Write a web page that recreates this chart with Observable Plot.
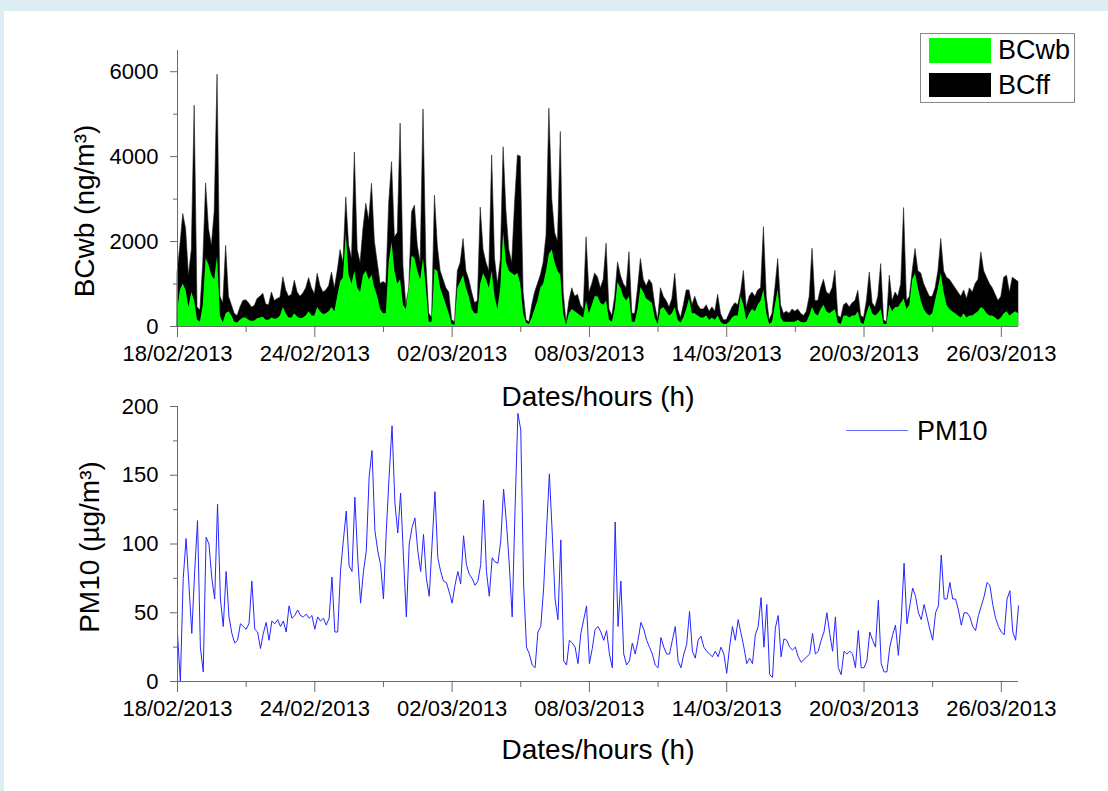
<!DOCTYPE html>
<html><head><meta charset="utf-8">
<script src="https://cdn.jsdelivr.net/npm/d3@7"></script>
<script src="https://cdn.jsdelivr.net/npm/@observablehq/plot@0.6"></script>
<style>
html,body{margin:0;padding:0;}
body{width:1108px;height:791px;background:#dcedf4;position:relative;overflow:hidden;font-family:"Liberation Sans",Arial,sans-serif;color:#000;}
#panel{position:absolute;left:4px;top:11px;width:1104px;height:780px;background:#fff;}
.abs{position:absolute;}
.ytitle{position:absolute;font-size:28px;white-space:nowrap;transform:translate(-50%,-50%) rotate(-90deg);line-height:1;}
.legtext{position:absolute;font-size:27px;line-height:27px;white-space:nowrap;}
</style></head><body>
<div id="panel"></div>
<div id="top" class="abs" style="left:0;top:0"></div>
<div id="bottom" class="abs" style="left:0;top:380px"></div>
<div class="ytitle" style="left:85px;top:211px">BCwb (ng/m³)</div>
<div class="ytitle" style="left:90px;top:547px">PM10 (µg/m³)</div>
<div class="abs" style="left:920px;top:33px;width:153px;height:68px;border:1px solid #888;background:#fff"></div>
<div class="abs" style="left:929px;top:38px;width:62px;height:25px;background:#00ff00"></div>
<div class="abs" style="left:929px;top:73px;width:62px;height:24px;background:#000"></div>
<div class="legtext" style="left:998px;top:37px">BCwb</div>
<div class="legtext" style="left:998px;top:72px">BCff</div>
<div class="abs" style="left:846px;top:430px;width:62px;height:1px;background:#6f6fff"></div>
<div class="legtext" style="left:917px;top:418px">PM10</div>
<script>
// ---- data (3-hourly, starting 18/02/2013 00:00) ----
const startDate = "18/02/2013";
const stepHours = 3;
const bcTotal = [
1250,1900,2650,2300,1200,1800,5200,450,
380,1500,3370,2300,1900,2700,5930,700,
550,1900,700,500,300,250,450,600,
620,550,450,480,650,700,770,520,
500,800,600,650,680,1160,850,700,
750,1080,800,700,780,900,1140,900,
760,1240,950,800,850,950,1270,900,
1300,1800,1500,3040,1900,1600,4100,1800,
1500,2300,2890,2500,3360,2000,1500,1000,
1050,1000,2900,3870,2100,2200,4780,1400,
500,900,2690,2850,1900,1500,5110,1500,
300,200,3080,1900,1300,1100,900,800,
150,100,1300,1500,2060,1300,1100,800,
550,600,2800,1800,1500,1300,4030,1600,
1000,1550,4220,2700,1800,1500,2900,4030,
4000,800,150,100,500,800,1000,1200,
1500,2140,5130,3000,2200,2000,4580,800,
80,600,900,700,750,500,400,2100,
800,1000,1250,1150,900,1100,1950,400,
250,700,1510,1200,1000,900,1750,300,
300,900,1590,1100,950,1100,1000,500,
150,900,700,600,450,650,1240,400,
200,500,850,850,500,700,500,400,
400,500,350,450,350,750,300,150,
150,300,450,550,500,800,1310,450,
700,800,700,850,900,2340,700,150,
300,900,1590,500,300,350,300,400,
350,400,300,250,350,700,1830,600,
600,900,1100,800,750,900,1310,250,
200,500,550,450,550,600,840,250,
200,600,1270,550,450,700,1470,150,
100,1196,600,800,700,1000,2790,600,
700,1300,1825,1300,1250,1000,850,700,
700,900,1300,2060,1300,1150,1100,1000,
900,800,700,850,650,900,800,1000,
1100,1746,1300,1150,1000,900,750,600,
700,1150,1196,800,1150,1100,1050];
const bcWb = [
350,850,1000,850,450,800,600,150,
100,500,1600,1450,1200,1100,1650,250,
80,300,350,250,100,80,150,200,
200,150,120,130,180,200,220,150,
150,200,170,180,250,450,300,200,
200,300,220,180,200,250,350,250,
250,450,350,280,300,350,450,350,
700,1050,1150,2190,1200,1000,1300,900,
800,1200,1300,1100,1200,900,700,400,
300,300,1500,1980,1300,1000,1100,500,
400,900,1660,1600,1300,1100,1600,900,
100,100,1350,1300,900,700,500,300,
50,30,900,1050,1200,900,700,400,
300,300,1000,1250,1100,900,1300,700,
400,900,2220,1500,1300,1250,1200,1250,
1000,300,80,50,200,400,600,900,
1000,1300,1700,1800,1500,1300,1200,300,
30,300,400,350,300,250,200,600,
300,500,700,700,550,500,600,150,
100,400,1040,900,700,600,700,100,
100,400,920,800,650,600,550,200,
50,400,450,350,250,300,450,150,
80,200,400,650,300,300,250,200,
200,250,150,200,150,250,100,50,
50,100,200,250,250,700,500,150,
300,400,350,500,600,860,300,50,
100,500,860,200,100,100,100,100,
100,150,100,80,100,250,450,300,
250,400,500,350,300,350,400,80,
50,250,250,200,250,250,350,80,
50,300,500,300,250,300,400,50,
50,500,350,450,450,550,650,400,
500,1100,1240,900,600,400,300,250,
300,600,900,1240,800,500,400,350,
300,250,200,300,200,250,250,300,
350,450,400,300,250,250,200,150,
200,300,350,250,300,350,300];
const pm10 = [
35,0,75,104,70,35,80,117,
25,7,105,100,75,60,129,60,
40,80,47,35,28,30,42,40,
38,42,73,38,36,24,35,43,
30,44,42,45,40,44,36,55,
46,48,52,48,47,49,46,48,
38,47,44,46,41,46,76,36,
36,81,103,124,84,80,134,90,
57,80,95,149,168,110,95,85,
60,110,150,186,130,108,137,90,
47,100,112,119,95,80,107,75,
62,100,138,90,80,73,72,65,
57,70,80,71,106,85,78,75,
70,73,85,132,80,62,90,87,
86,102,140,115,85,47,125,195,
183,70,25,20,12,10,36,40,
68,110,151,108,60,45,103,15,
12,30,28,25,13,35,45,55,
13,24,38,40,36,30,37,20,
10,116,40,73,20,12,15,28,
20,30,43,38,30,25,20,12,
10,32,25,20,20,30,40,15,
10,20,27,51,22,17,30,33,
25,22,20,18,22,18,25,20,
6,25,40,30,45,35,25,13,
17,13,34,40,61,25,56,5,
3,39,48,18,31,30,25,23,
25,18,14,16,18,20,35,20,
22,30,36,50,35,22,47,10,
5,22,20,22,20,10,37,10,
10,15,36,30,25,59,13,7,
7,25,34,41,19,45,86,42,
55,68,62,50,45,56,47,38,
30,50,55,92,60,60,72,60,
60,52,41,50,50,47,40,37,
48,55,62,72,70,56,46,40,
36,34,60,66,36,30,55];
const dateTickLabels = ["18/02/2013","24/02/2013","02/03/2013","08/03/2013","14/03/2013","20/03/2013","26/03/2013"];
const dateMinorTicks = ["21/02/2013","27/02/2013","05/03/2013","11/03/2013","17/03/2013","23/03/2013"];
const bcTicks = [0,2000,4000,6000];
const bcMinor = [1000,3000,5000];
const pmTicks = [0,50,100,150,200];
const pmMinor = [25,75,125,175];
const labels = {x:"Dates/hours (h)"};

// ---- build ----
const parseDMY = s => { const [d,m,y] = s.split("/").map(Number); return new Date(Date.UTC(y, m-1, d)); };
const t0 = parseDMY(startDate).getTime();
const H = stepHours*3600*1000;
const bcRows = bcTotal.map((v,i)=>({t:new Date(t0+i*H), total:v, wb:bcWb[i]}));
const pmRows = pm10.map((v,i)=>({t:new Date(t0+i*H), v}));
const xDomain = [new Date(t0), new Date(t0+(bcTotal.length-1)*H)];
const majorDates = dateTickLabels.map(parseDMY);
const minorDates = dateMinorTicks.map(parseDMY);
const fmt = d3.utcFormat("%d/%m/%Y");
const font = "Liberation Sans, Arial, sans-serif";
const axisColor = "#6a6a6a";

function axes(yMajor, yMinor){
  return [
    Plot.axisX({ticks: majorDates, tickFormat: fmt, tickSize: 11, tickPadding: 8, fontSize: 22, stroke: axisColor, fill: "#000", label: null}),
    Plot.axisX({ticks: minorDates, tickFormat: () => "", tickSize: 6, stroke: axisColor, label: null}),
    Plot.axisY({ticks: yMajor, tickFormat: d => String(d), tickSize: 7, tickPadding: 12, fontSize: 22, stroke: axisColor, fill: "#000", label: null}),
    Plot.axisY({ticks: yMinor, tickFormat: () => "", tickSize: 4, stroke: axisColor, label: null}),
    Plot.ruleX([xDomain[0]], {stroke: axisColor}),
    Plot.ruleY([0], {stroke: axisColor})
  ];
}

const topChart = Plot.plot({
  width: 1108, height: 420,
  marginLeft: 177, marginRight: 90, marginTop: 50, marginBottom: 94,
  style: {background: "transparent", fontFamily: font, overflow: "visible"},
  x: {type: "utc", domain: xDomain},
  y: {domain: [0, 6500]},
  marks: [
    Plot.areaY(bcRows, {x: "t", y: "total", fill: "#000", stroke: "#222", strokeWidth: 0.6}),
    Plot.areaY(bcRows, {x: "t", y: "wb", fill: "#00ff00"}),
    ...axes(bcTicks, bcMinor),
    Plot.text([labels.x], {frameAnchor: "bottom", dy: 71, fontSize: 28, lineAnchor: "middle", fill: "#000"})
  ]
});
document.getElementById("top").appendChild(topChart);

const bottomChart = Plot.plot({
  width: 1108, height: 411,
  marginLeft: 177, marginRight: 90, marginTop: 26, marginBottom: 110,
  style: {background: "transparent", fontFamily: font, overflow: "visible"},
  x: {type: "utc", domain: xDomain},
  y: {domain: [0, 200]},
  marks: [
    Plot.lineY(pmRows, {x: "t", y: "v", stroke: "#2626ff", strokeWidth: 1}),
    ...axes(pmTicks, pmMinor),
    Plot.text([labels.x], {frameAnchor: "bottom", dy: 69, fontSize: 28, lineAnchor: "middle", fill: "#000"})
  ]
});
document.getElementById("bottom").appendChild(bottomChart);
</script>
</body></html>
